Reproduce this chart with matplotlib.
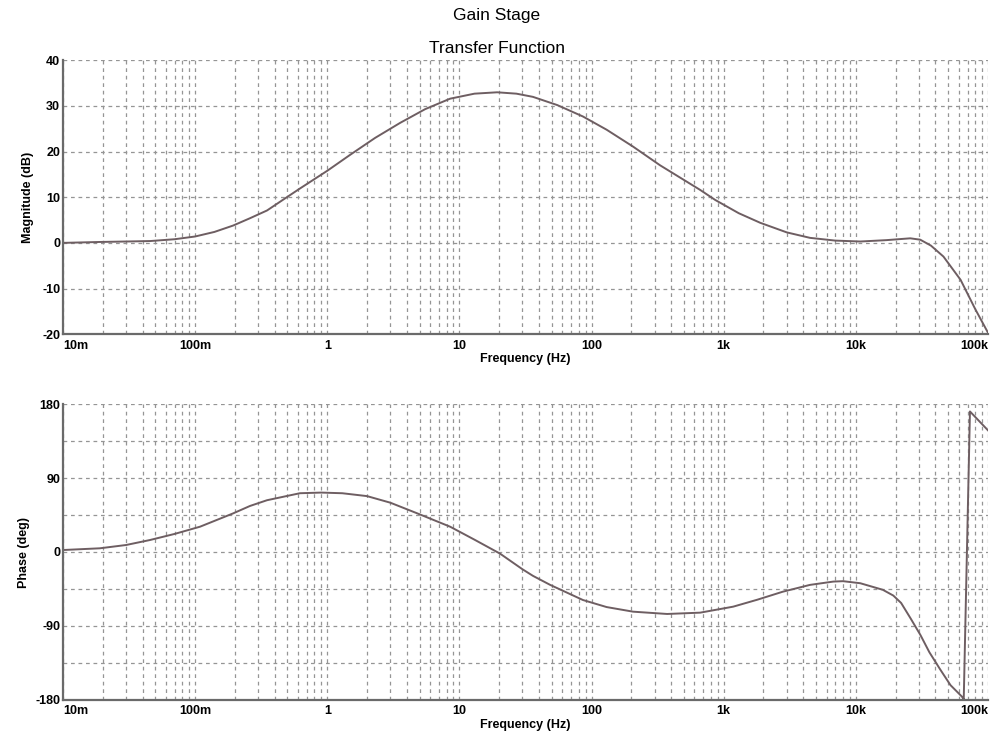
import matplotlib
matplotlib.use("Agg")
import matplotlib.pyplot as plt
from matplotlib.ticker import LogLocator, FixedLocator, NullFormatter, MultipleLocator

# ---- data ----
freq_mag = [0.01, 0.019, 0.03, 0.0456, 0.07, 0.1, 0.14, 0.194, 0.26, 0.35, 0.46, 0.62,
            1.0, 1.49, 2.3, 3.56, 5.5, 8.5, 13, 19.3, 27, 36, 55, 86, 130, 206, 330,
            664, 863, 1300, 1890, 3000, 4500, 7000, 10800, 17000, 25800, 30700,
            37000, 46000, 62000, 80000, 100000]
mag_db = [0.0, 0.2, 0.3, 0.4, 0.8, 1.4, 2.4, 3.8, 5.4, 7.1, 9.4, 11.9,
          15.8, 19.3, 23.0, 26.3, 29.3, 31.6, 32.7, 33.0, 32.7, 32.0, 30.2, 27.7, 24.8, 21.1, 17.0,
          11.6, 9.4, 6.5, 4.4, 2.3, 1.1, 0.5, 0.3, 0.6, 1.0, 0.7,
          -0.6, -3.0, -8.1, -14.5, -19.7]

freq_phase = [0.01, 0.019, 0.03, 0.0456, 0.07, 0.109, 0.194, 0.26, 0.35, 0.62, 0.9, 1.3, 2.0,
              3.0, 4.8, 8.5, 13, 20.3, 30, 36, 48.6, 86, 130, 206, 373, 664, 1180,
              1800, 2800, 4500, 6750, 8000, 10800, 16000, 19200, 22000, 26000, 30800,
              36000, 43500, 52000, 63500, 65500, 73000, 100000]
phase_deg = [2.4, 4.5, 8.5, 14.6, 22, 30.8, 47, 56, 63, 71.5, 72.3, 71.5, 68,
             60, 47, 30.8, 15, -2, -21, -29, -40, -58.4, -67, -72.6, -75.4, -73.8, -66.5,
             -58, -48.3, -40, -36, -35.5, -38, -46, -53, -62, -81, -101,
             -122, -143, -162, -176, -179.5, 171, 148]

x_ticks = [0.01, 0.1, 1, 10, 100, 1000, 10000, 100000]
x_tick_labels = ["10m", "100m", "1", "10", "100", "1k", "10k", "100k"]
mag_ticks = [-20, -10, 0, 10, 20, 30, 40]
phase_ticks = [-180, -90, 0, 90, 180]

line_color = "#6e5e62"
grid_color = "#959595"
spine_color = "#6a6a6a"

plt.rcParams['font.family'] = ['Liberation Sans', 'DejaVu Sans']

fig = plt.figure(figsize=(9.9, 7.36), dpi=100)
ax1 = fig.add_axes([0.0636, 0.546, 0.9344, 0.372])
ax2 = fig.add_axes([0.0636, 0.049, 0.9344, 0.402])

def style(ax, yticks, yminor):
    ax.set_xscale('log')
    ax.set_xlim(0.01, 100000)
    ax.xaxis.set_major_locator(FixedLocator(x_ticks))
    ax.xaxis.set_minor_locator(LogLocator(base=10, subs=range(2, 10), numticks=20))
    ax.xaxis.set_minor_formatter(NullFormatter())
    ax.set_xticks(x_ticks)
    ax.set_xticklabels(x_tick_labels, fontsize=9, fontweight='bold')
    labs = ax.get_xticklabels()
    labs[0].set_ha('left')
    labs[-1].set_ha('right')
    ax.set_yticks(yticks)
    ax.set_yticklabels([str(v) for v in yticks], fontsize=9, fontweight='bold')
    if yminor:
        ax.yaxis.set_minor_locator(MultipleLocator(yminor))
    ax.grid(True, which='both', axis='both', color=grid_color, linestyle=(0, (3, 3)), linewidth=0.9)
    ax.tick_params(which='both', length=0, pad=2)
    ax.tick_params(axis='x', pad=4)
    for s in ('top', 'right'):
        ax.spines[s].set_visible(False)
    for s in ('left', 'bottom'):
        ax.spines[s].set_color(spine_color)
        ax.spines[s].set_linewidth(1.6)
    ax.set_xlabel("Frequency (Hz)", fontsize=9, fontweight='bold', labelpad=1)

ax1.semilogx(freq_mag, mag_db, color=line_color, linewidth=1.4)
ax1.set_ylim(-20, 40)
style(ax1, mag_ticks, None)
ax1.set_ylabel("Magnitude (dB)", fontsize=9, fontweight='bold', labelpad=6)

ax2.semilogx(freq_phase, phase_deg, color=line_color, linewidth=1.4)
ax2.set_ylim(-180, 180)
style(ax2, phase_ticks, 45)
ax2.set_ylabel("Phase (deg)", fontsize=9, fontweight='bold', labelpad=4)

fig.text(0.502, 0.979, "Gain Stage", ha='center', va='center', fontsize=12.5)
fig.text(0.502, 0.934, "Transfer Function", ha='center', va='center', fontsize=12.5)

fig.savefig("out.png", dpi=100)
